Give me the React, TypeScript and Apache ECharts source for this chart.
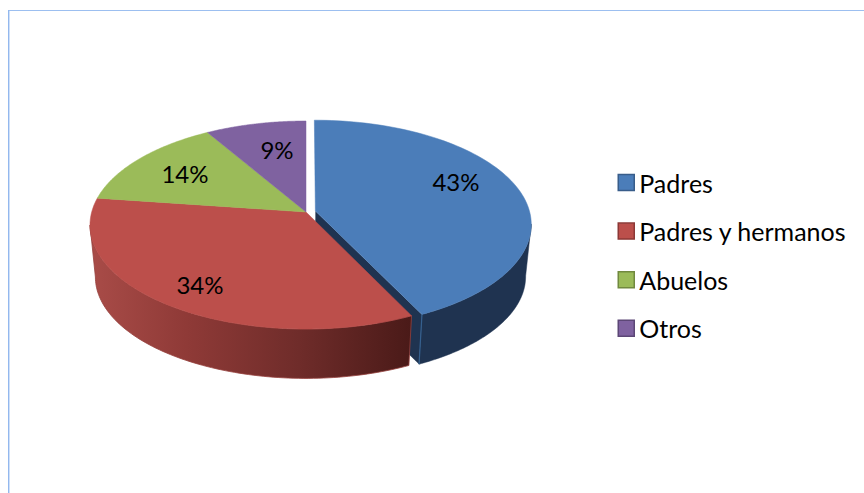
import React, { useEffect, useRef } from "react";
import * as echarts from "echarts";

const CATEGORIES = ["Padres", "Padres y hermanos", "Abuelos", "Otros"];
const VALUES = [42.8, 34.4, 14.3, 8.5];
const TOP_COLORS = ["#4b7db9", "#bc4f4b", "#9bbb59", "#7f62a0"];
const BORDER_COLORS = ["#385d8a", "#8c3836", "#71893f", "#5c4776"];
const EXPLODE = [0.045, 0, 0, 0];
const LABEL_ANCHORS = [[456, 181], [200, 284], [185, 173], [277, 149]];

const FONT = "Lato";
const CX = 306, CY = 225, RX = 216, RY = 104, K = -0.125, SHRINK = 0.975, DEPTH = 52;
const TOTAL = VALUES.reduce((a, b) => a + b, 0);

function sliceStart(i: number) {
  return (VALUES.slice(0, i).reduce((a, b) => a + b, 0) / TOTAL) * Math.PI * 2;
}
function sliceEnd(i: number) {
  return sliceStart(i + 1);
}
function project(theta: number, r: number, i: number, bottom: boolean): number[] {
  const mid = (sliceStart(i) + sliceEnd(i)) / 2;
  const e = EXPLODE[i];
  const u = r * Math.sin(theta) + e * Math.sin(mid);
  const v = -r * Math.cos(theta) - e * Math.cos(mid);
  const d = 1 + K * v;
  const px = (u * Math.sqrt(1 - K * K)) / d;
  const py = (v + K) / d;
  const s = bottom ? SHRINK : 1;
  return [CX + RX * px * s, CY + RY * py * s + (bottom ? DEPTH : 0)];
}
function arc(i: number, a: number, b: number, bottom: boolean): number[][] {
  const n = 90, pts: number[][] = [];
  for (let t = 0; t <= n; t++) pts.push(project(a + ((b - a) * t) / n, 1, i, bottom));
  return pts;
}

// Front half of the rim: the part of the circle below the ellipse's widest line.
const FRONT_FROM = Math.acos(K);
const FRONT_TO = Math.PI * 2 - FRONT_FROM;

function wallFill(i: number): any {
  if (i === 1) {
    return new echarts.graphic.LinearGradient(0, 0, 1, 0, [
      { offset: 0, color: "#a94c48" },
      { offset: 0.3, color: "#8f3a37" },
      { offset: 0.65, color: "#6f2c2a" },
      { offset: 1, color: "#4a1a18" },
    ]);
  }
  return "#1f3350";
}

function makeRenderItem(i: number) {
  return (_params: any, api: any) => {
    const value = api.value(0);
    const start = sliceStart(i), end = sliceEnd(i);
    const topArc = arc(i, start, end, false);
    const apexT = project(0, 0, i, false);
    const apexB = project(0, 0, i, true);
    const children: any[] = [];
    const wallFrom = Math.max(start, FRONT_FROM), wallTo = Math.min(end, FRONT_TO);
    if (wallFrom < wallTo) {
      const t = arc(i, wallFrom, wallTo, false);
      const b = arc(i, wallFrom, wallTo, true);
      children.push({
        type: "polygon",
        shape: { points: [...t, ...b.reverse()] },
        style: { fill: wallFill(i), stroke: i === 1 ? "#96403c" : "#1f3350", lineWidth: i === 1 ? 0.8 : 0.5 },
      });
    }
    if (i === 0) {
      const cT = project(end, 1, i, false);
      const cB = project(end, 1, i, true);
      children.push({
        type: "polygon",
        shape: { points: [apexT, cT, cB, apexB] },
        style: { fill: "#1f3350" },
      });
      children.push({
        type: "line",
        shape: { x1: cT[0], y1: cT[1], x2: cB[0], y2: cB[1] },
        style: { stroke: "#35608f", lineWidth: 1.2 },
      });
    }
    children.push({
      type: "polygon",
      shape: { points: [apexT, ...topArc] },
      style: { fill: TOP_COLORS[i], stroke: TOP_COLORS[i], lineWidth: 0.5 },
    });
    children.push({
      type: "text",
      style: {
        text: `${Math.round(value)}%`,
        x: LABEL_ANCHORS[i][0],
        y: LABEL_ANCHORS[i][1],
        fill: "#000000",
        fontFamily: FONT,
        fontSize: 24,
        textAlign: "center",
        textVerticalAlign: "middle",
      },
    });
    return { type: "group", children };
  };
}

export default function App() {
  const ref = useRef<HTMLDivElement>(null);
  useEffect(() => {
    const chart = echarts.init(ref.current!, undefined, { renderer: "svg" });
    chart.setOption({
      animation: false,
      backgroundColor: "#ffffff",
      color: TOP_COLORS,
      legend: {
        orient: "vertical",
        left: 617.5,
        top: 170,
        padding: 0,
        icon: "rect",
        itemWidth: 16,
        itemHeight: 16,
        itemGap: 23.6,
        selectedMode: false,
        textStyle: { fontFamily: FONT, fontSize: 25, color: "#000000", lineHeight: 24 },
        data: CATEGORIES.map((name, i) => ({
          name,
          itemStyle: { color: TOP_COLORS[i], borderColor: BORDER_COLORS[i], borderWidth: 1.5 },
        })),
      },
      graphic: [
        { type: "rect", shape: { x: 8, y: 10, width: 856, height: 1 }, style: { fill: "#9cbff0" } },
        { type: "rect", shape: { x: 8, y: 10, width: 1, height: 483 }, style: { fill: "#93b8ee" } },
        { type: "rect", shape: { x: 9, y: 11, width: 1, height: 482 }, style: { fill: "#cfe0f8" } },
      ],
      series: CATEGORIES.map((name, i) => ({
        type: "custom",
        name,
        coordinateSystem: "none",
        silent: true,
        z: 2 + i,
        data: [[VALUES[i]]],
        renderItem: makeRenderItem(i),
      })),
    });
    return () => chart.dispose();
  }, []);
  return <div ref={ref} style={{ position: "fixed", left: 0, top: 0, width: 864, height: 493 }} />;
}
